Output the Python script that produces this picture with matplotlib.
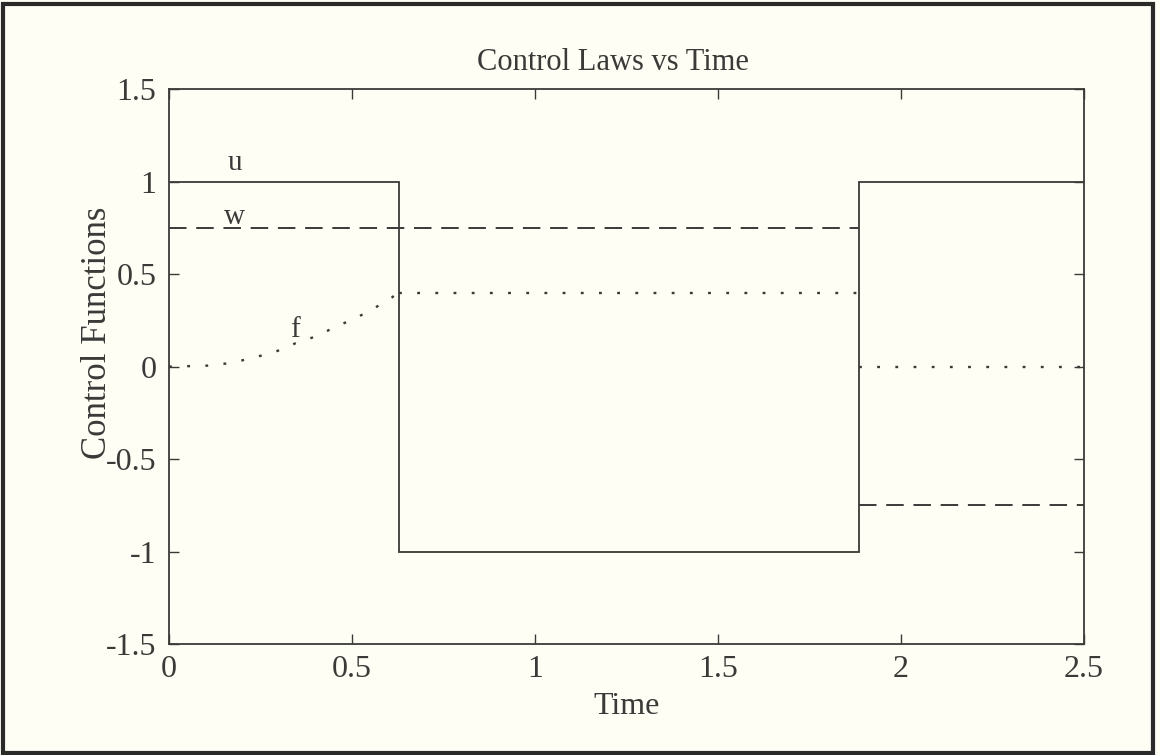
import matplotlib.pyplot as plt
from matplotlib.patches import Rectangle

plt.rcParams['font.family'] = ['Liberation Serif', 'DejaVu Serif']

# switching times
t_switch = [0.0, 0.628, 1.885, 2.5]
u_levels = [1, -1, 1]
w_levels = [0.75, 0.75, -0.75]
f_const = [0.40, 0.0]

# f on the first arc
f_t = [0.0, 0.012, 0.107, 0.171, 0.235, 0.292, 0.348, 0.403, 0.453, 0.510, 0.558, 0.608, 0.628]
f_v = [0.0, 0.0, 0.005, 0.02, 0.05, 0.081, 0.128, 0.164, 0.213, 0.262, 0.312, 0.372, 0.402]

bg = '#fefef5'
ink = '#3a3a38'

fig = plt.figure(figsize=(11.6, 7.55), dpi=100, facecolor=bg)
ax = fig.add_axes([0.1457, 0.147, 0.7888, 0.735], facecolor=bg)

# u: solid, with vertical jumps
ut, uv = [], []
for i, lev in enumerate(u_levels):
    ut += [t_switch[i], t_switch[i + 1]]
    uv += [lev, lev]
ax.plot(ut, uv, color=ink, lw=1.3, solid_joinstyle='miter')

# w: dashed, two pieces
ax.plot([t_switch[0], t_switch[2]], [w_levels[0], w_levels[1]], color=ink, lw=1.4,
        dashes=(9, 5))
ax.plot([t_switch[2], t_switch[3]], [w_levels[2], w_levels[2]], color=ink, lw=1.4,
        dashes=(9, 5))

# f: dotted
dot = dict(color=ink, lw=1.7, dashes=(1.2, 6.5))
ax.plot(f_t, f_v, **dot)
ax.plot([t_switch[1], t_switch[2]], [f_const[0], f_const[0]], **dot)
ax.plot([t_switch[2], t_switch[3]], [f_const[1], f_const[1]], **dot)

ax.text(0.18, 1.10, 'u', fontsize=21, ha='center', va='center', color=ink)
ax.text(0.18, 0.81, 'w', fontsize=21, ha='center', va='center', color=ink)
ax.text(0.344, 0.20, 'f', fontsize=21, ha='center', va='center', color=ink)

ax.set_xlim(0, 2.5)
ax.set_ylim(-1.5, 1.5)
ax.set_xticks([0, 0.5, 1, 1.5, 2, 2.5])
ax.set_xticklabels(['0', '0.5', '1', '1.5', '2', '2.5'])
ax.set_yticks([-1.5, -1, -0.5, 0, 0.5, 1, 1.5])
ax.set_yticklabels(['-1.5', '-1', '-0.5', '0', '0.5', '1', '1.5'])
ax.tick_params(direction='in', length=7, width=1, colors=ink, labelsize=23,
               top=True, right=True)
ax.tick_params(axis='y', pad=9)
ax.tick_params(axis='x', pad=8)
for s in ax.spines.values():
    s.set_color(ink)
    s.set_linewidth(1.3)

ax.set_title('Control Laws vs Time', fontsize=22, color=ink, pad=14, x=0.485)
ax.set_xlabel('Time', fontsize=23, color=ink, labelpad=6)
ax.set_ylabel('Control Functions', fontsize=25, color=ink)
ax.yaxis.set_label_coords(-0.06, 0.56)

# outer frame
fig.patches.append(Rectangle((0.003, 0.003), 0.991, 0.992, transform=fig.transFigure,
                             fill=False, edgecolor='#2a2a28', lw=3))

fig.savefig('out.png', dpi=100, facecolor=bg)
